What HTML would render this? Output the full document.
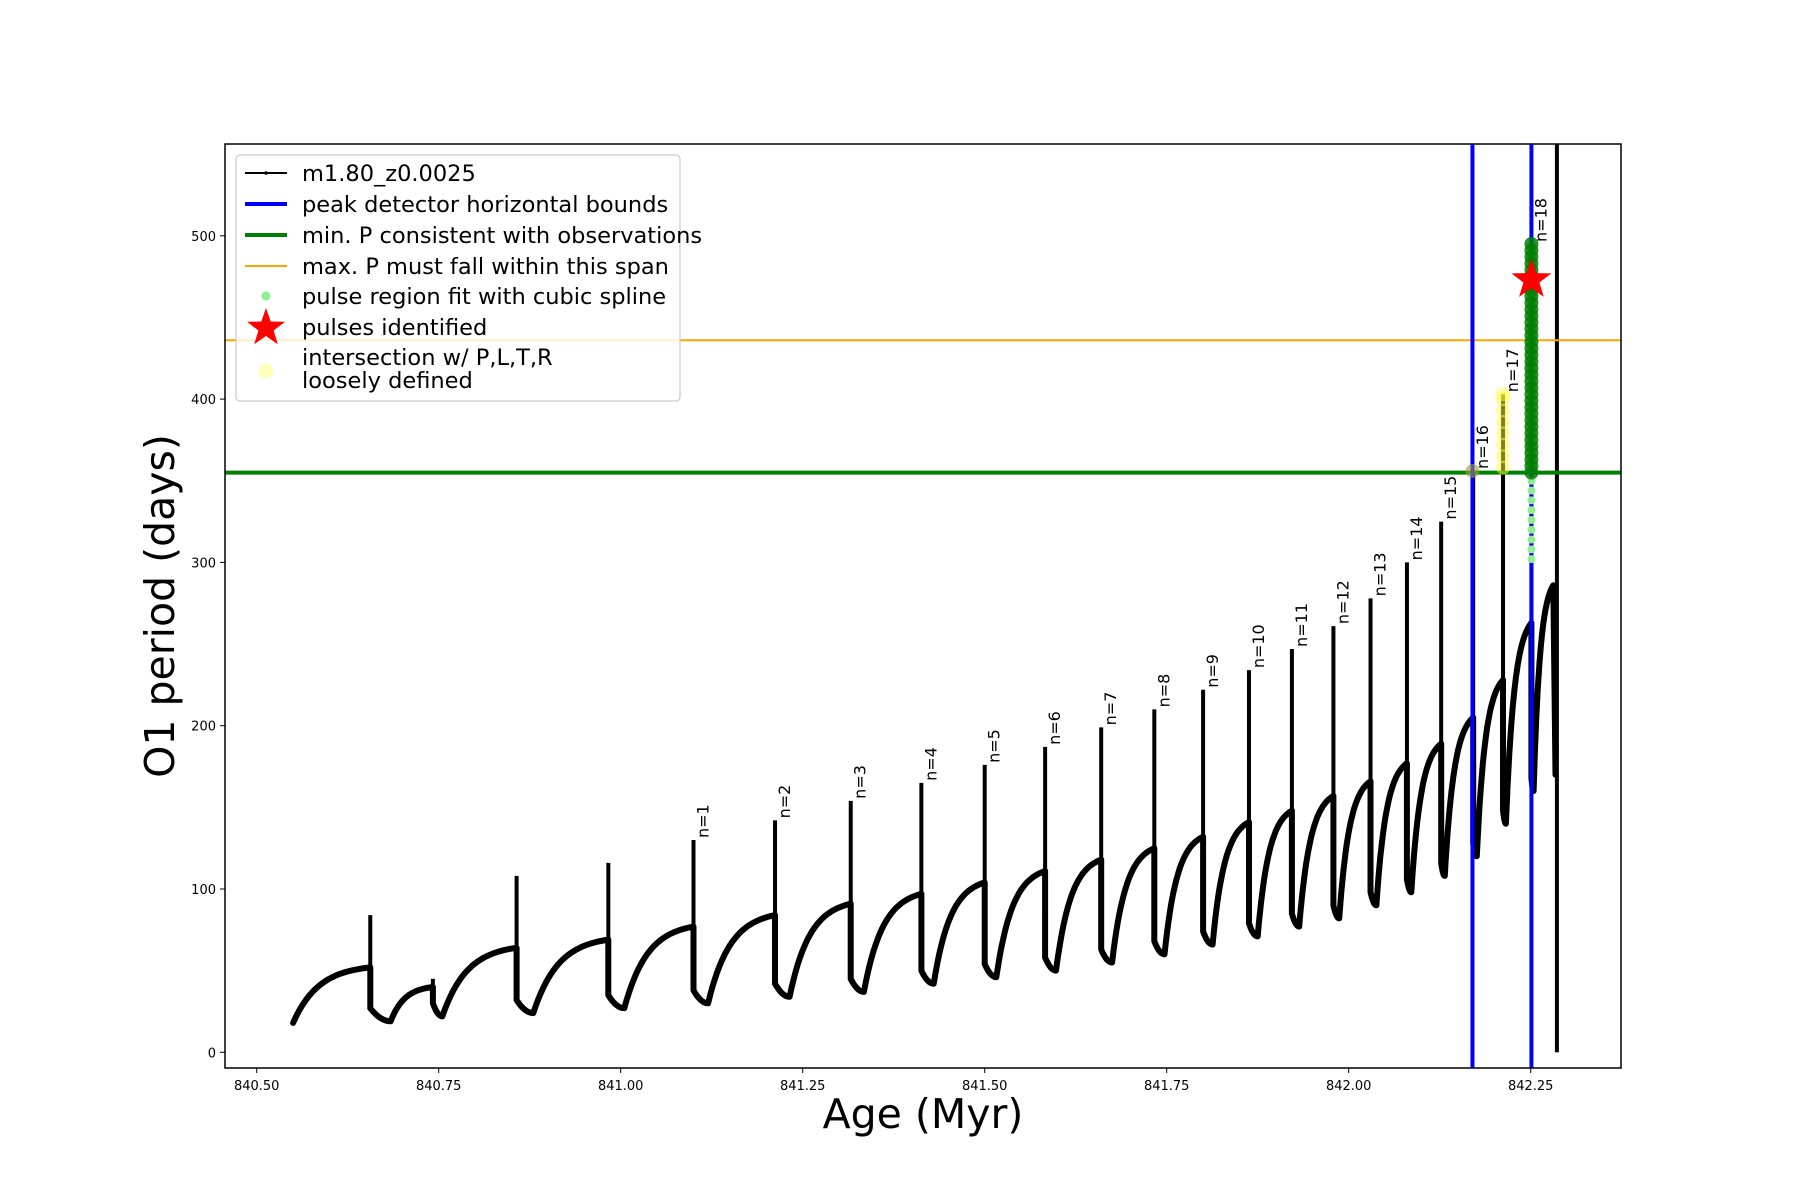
<!DOCTYPE html>
<html><head><meta charset="utf-8">
<style>
html,body{margin:0;padding:0;background:#fff;}
svg{display:block;font-family:"DejaVu Sans","Liberation Sans",sans-serif;}
</style></head>
<body>
<svg id="chart" width="1800" height="1200" viewBox="0 0 1800 1200" xmlns="http://www.w3.org/2000/svg">
<defs><clipPath id="plotclip"><rect x="225" y="144" width="1396" height="924"/></clipPath></defs>
<rect x="0" y="0" width="1800" height="1200" fill="#fff"/>
<g id="plot" clip-path="url(#plotclip)"></g>
<rect x="225" y="144" width="1396" height="924" fill="none" stroke="#000" stroke-width="1.5"/>
<g id="xticks"></g>
<g id="yticks"></g>
<text x="923" y="1128" font-size="41" text-anchor="middle">Age (Myr)</text>
<text transform="translate(174,606) rotate(-90)" font-size="41" text-anchor="middle">O1 period (days)</text>
<g id="legend">
<rect x="236" y="155" width="444" height="246" rx="4" fill="#fff" fill-opacity="0.8" stroke="#ccc" stroke-width="1.2"/>
<g><line x1="245" y1="173" x2="287" y2="173" stroke="#000" stroke-width="2"/><circle cx="266" cy="173" r="1.8"/><text x="302" y="181" font-size="22.5">m1.80_z0.0025</text></g>
<g><line x1="245" y1="204" x2="287" y2="204" stroke="#00f" stroke-width="4"/><text x="302" y="212" font-size="22.5">peak detector horizontal bounds</text></g>
<g><line x1="245" y1="235" x2="287" y2="235" stroke="#008000" stroke-width="4"/><text x="302" y="243" font-size="22.5">min. P consistent with observations</text></g>
<g><line x1="245" y1="266" x2="287" y2="266" stroke="orange" stroke-width="2"/><text x="302" y="274" font-size="22.5">max. P must fall within this span</text></g>
<g><circle cx="266" cy="296" r="4.5" fill="#90ee90"/><text x="302" y="304" font-size="22.5">pulse region fit with cubic spline</text></g>
<g><polygon id="legstar" fill="red"/><text x="302" y="335" font-size="22.5">pulses identified</text></g>
<g><circle cx="266" cy="371" r="7.5" fill="#ffffa0" fill-opacity="0.7"/><text x="302" y="365" font-size="22.5">intersection w/ P,L,T,R</text><text x="302" y="388" font-size="22.5">loosely defined</text></g>
</g>
</svg>
<script>
// ---- data ----
const pulseAge = [840.656,840.742,840.857,840.983,841.100,841.212,841.316,841.413,841.500,841.583,841.660,841.733,841.800,841.863,841.922,841.979,842.030,842.080,842.127,842.171,842.212,842.251];
const peakP    = [84,45,108,116,130,142,154,165,176,187,199,210,222,234,247,261,278,300,325,356,403,495];
const preP     = [52,40,64,69,77,84,91,97,104,111,118,125,132,141,148,157,166,177,189,205,228,263];
const minAge   = [840.684,840.755,840.880,841.005,841.120,841.232,841.334,841.430,841.516,841.598,841.675,841.747,841.813,841.875,841.932,841.987,842.038,842.086,842.132,842.176,842.216,842.254];
const minP     = [19,22,24,27,30,34,37,42,46,50,55,60,66,71,77,82,90,98,108,120,140,160];
const startAge = 840.55, startP = 18;
const finalPeakAge = 842.281, finalPeakP = 286, finalDropAge = 842.286;
const nLabels  = ["n=1","n=2","n=3","n=4","n=5","n=6","n=7","n=8","n=9","n=10","n=11","n=12","n=13","n=14","n=15","n=16","n=17","n=18"];
const boundAges = [842.170, 842.251];
const minObsP = 355, maxObsP = 436;
const splineP = [302,308,314,320,326,332,338,344,350];
const clusterP = [355,359,363,367,371,375,379,383,387,391,395,399,403,407,411,415,419,423,427,431,435,439,443,447,451,455,459,463,467,471,475,479,483,487,491,495];
const yellowP = [358,365,372,379,386,393,400,403];
const starAge = 842.251, starP = 473;
const xTicks = [840.50,840.75,841.00,841.25,841.50,841.75,842.00,842.25];
const xTickLabels = ["840.50","840.75","841.00","841.25","841.50","841.75","842.00","842.25"];
const yTicks = [0,100,200,300,400,500];
const yTickLabels = ["0","100","200","300","400","500"];

// ---- axes ----
const X = a => 1348.7 + (a - 842) * 728;
const Y = p => 1052.3 - p * 1.633;
const NS = "http://www.w3.org/2000/svg";
function mk(tag, attrs, parent){const e=document.createElementNS(NS,tag);for(const k in attrs)e.setAttribute(k,attrs[k]);parent.appendChild(e);return e;}
const plot = document.getElementById('plot');

// ---- build curve ----
function rise(a0,p0,a1,p1,pts){const k=3,N=30;for(let j=0;j<=N;j++){const s=j/N;pts.push([X(a0+(a1-a0)*s),Y(p0+(p1-p0)*(1-Math.exp(-k*s))/(1-Math.exp(-k)))]);}}
let main = [];
rise(startAge,startP,pulseAge[0],preP[0],main);
const spikes = [];
for(let i=0;i<pulseAge.length;i++){
  spikes.push([X(pulseAge[i]),Y(preP[i]),Y(peakP[i])]);
  const drop = minP[i]+8;
  main.push([X(pulseAge[i]),Y(drop)]);
  const N=8;for(let j=1;j<=N;j++){const s=j/N;main.push([X(pulseAge[i]+(minAge[i]-pulseAge[i])*s),Y(drop+(minP[i]-drop)*s*(2-s))]);}
  if(i+1<pulseAge.length) rise(minAge[i],minP[i],pulseAge[i+1],preP[i+1],main);
  else rise(minAge[i],minP[i],finalPeakAge,finalPeakP,main);
}
main.push([X(finalPeakAge+0.003),Y(170)]);
const d = main.map((p,i)=>(i?'L':'M')+p[0].toFixed(1)+','+p[1].toFixed(1)).join('');
spikes.forEach((s,i)=>{
  const l=mk('line',{x1:s[0],y1:s[1],x2:s[0],y2:s[2],stroke:'#000','stroke-width':4},plot);
  
  
});
const path=mk('path',{d:d,fill:'none',stroke:'#000','stroke-width':6,'stroke-linejoin':'round','stroke-linecap':'round'},plot);


const fin=mk('line',{x1:X(finalDropAge),y1:Y(600),x2:X(finalDropAge),y2:Y(0),stroke:'#000','stroke-width':4},plot);



const gl=mk('line',{x1:225,x2:1621,y1:Y(minObsP),y2:Y(minObsP),stroke:'#008000','stroke-width':4},plot);


const ol=mk('line',{x1:225,x2:1621,y1:Y(maxObsP),y2:Y(maxObsP),stroke:'orange','stroke-width':2},plot);


boundAges.forEach(a=>{
  const b=mk('line',{x1:X(a),x2:X(a),y1:144,y2:1068,stroke:'#00f','stroke-width':4},plot);
  
  
});
yellowP.forEach(p=>{
  const c=mk('circle',{cx:X(pulseAge[20]),cy:Y(p),r:7,fill:'#ffff40','fill-opacity':0.5},plot);
  
  
});
const yc=mk('circle',{cx:X(boundAges[0]),cy:Y(356),r:7,fill:'#a0a040','fill-opacity':0.6},plot);


splineP.forEach(p=>{
  const c=mk('circle',{cx:X(starAge),cy:Y(p),r:4,fill:'#90ee90'},plot);
  
  
});
clusterP.forEach(p=>{
  const c=mk('circle',{cx:X(starAge),cy:Y(p),r:7,fill:'#008000','fill-opacity':0.85},plot);
  
  
});
function starPts(cx,cy,R){const r=R*0.4;let s=[];for(let k=0;k<10;k++){const ang=-Math.PI/2+k*Math.PI/5;const rr=k%2?r:R;s.push((cx+rr*Math.cos(ang)).toFixed(1)+','+(cy+rr*Math.sin(ang)).toFixed(1));}return s.join(' ');}
const st=mk('polygon',{points:starPts(X(starAge),Y(starP),21),fill:'red'},plot);


document.getElementById('legstar').setAttribute('points',starPts(266,328,20));
nLabels.forEach((t,i)=>{
  const pi=i+4;
  const x=X(pulseAge[pi])+15, y=Y(peakP[pi])-2;
  const tx=mk('text',{x:0,y:0,transform:`translate(${x},${y}) rotate(-90)`,'font-size':16},plot);
  tx.textContent=t;
  
  
});
const xg=document.getElementById('xticks');
xTicks.forEach((v,i)=>{
  mk('line',{x1:X(v),x2:X(v),y1:1068,y2:1073,stroke:'#000','stroke-width':1},xg);
  const t=mk('text',{x:X(v),y:1090,'font-size':13,'text-anchor':'middle'},xg);
  t.textContent=xTickLabels[i];
  
  
});
const yg=document.getElementById('yticks');
yTicks.forEach((v,i)=>{
  mk('line',{x1:220,x2:225,y1:Y(v),y2:Y(v),stroke:'#000','stroke-width':1},yg);
  const t=mk('text',{x:216,y:Y(v)+5,'font-size':13,'text-anchor':'end'},yg);
  t.textContent=yTickLabels[i];
  
  
});
</script>
</body></html>
